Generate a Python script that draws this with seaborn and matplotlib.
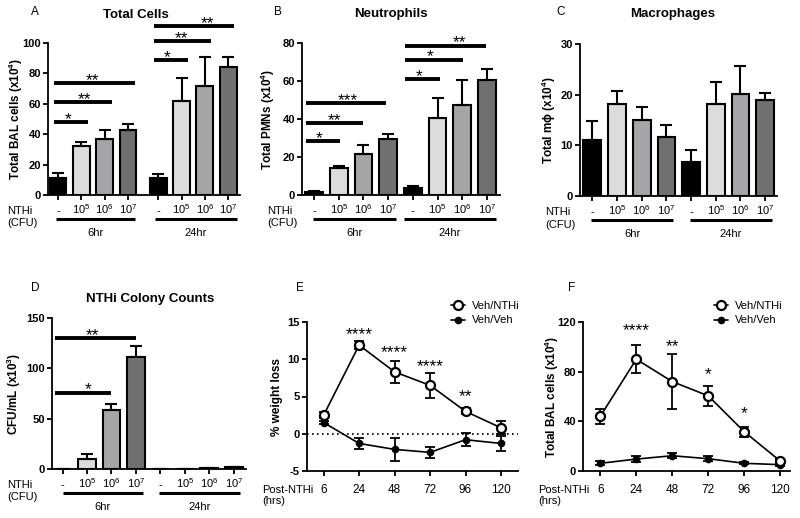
import numpy as np
import pandas as pd
import matplotlib
matplotlib.use('Agg')
import matplotlib.pyplot as plt
from matplotlib import transforms
import seaborn as sns

sns.set_style('ticks')
plt.rcParams['font.family'] = ['Liberation Sans', 'DejaVu Sans']
plt.rcParams['mathtext.fontset'] = 'custom'
plt.rcParams['mathtext.rm'] = 'Liberation Sans'
plt.rcParams['mathtext.bf'] = 'Liberation Sans:bold'
plt.rcParams['mathtext.it'] = 'Liberation Sans:italic'
for k in ['text.color', 'axes.labelcolor', 'xtick.color', 'ytick.color', 'axes.edgecolor']:
    plt.rcParams[k] = 'black'

# Dosen / Zeitpunkte der Balkendiagramme
doses = ['-', '10$^\\mathregular{5}$', '10$^\\mathregular{6}$', '10$^\\mathregular{7}$']
times = ['6hr', '24hr']
dose_colors = ['#000000', '#dcdcdc', '#a4a4a8', '#707070']

# A: Total cells
cells = [11, 32, 37, 43, 11, 62, 72, 84]
cells_err = [3.3, 3, 6, 4, 2.8, 15, 19, 6.5]
# B: Neutrophils
pmn = [1.5, 14, 21.5, 29.7, 3.9, 40.4, 47.4, 60.5]
pmn_err = [0.4, 1.1, 4.8, 2.2, 0.9, 10.6, 13, 6]
# C: Macrophages
mac = [11, 18.2, 15, 11.7, 6.7, 18.1, 20.1, 19]
mac_err = [3.8, 2.5, 2.6, 2.4, 2.3, 4.4, 5.5, 1.4]
# D: colony counts
cfu = [0, 10, 58.5, 111.4, 0, 0, 1, 2]
cfu_err = [0, 5.3, 5.7, 11, 0, 0, 0.3, 0.4]

# E / F: Zeitverlauf
hours = ['6', '24', '48', '72', '96', '120']
wl_nthi = [2.5, 11.9, 8.3, 6.5, 3.0, 0.8]
wl_nthi_err = [0.4, 0.5, 1.5, 1.7, 0.4, 0.9]
wl_veh = [1.5, -1.3, -2.1, -2.5, -0.8, -1.3]
wl_veh_err = [0.2, 0.7, 1.5, 0.7, 0.9, 1.0]
bal_nthi = [44, 90, 72, 60.5, 31.6, 8]
bal_nthi_err = [6.2, 11.3, 22, 8, 4, 2]
bal_veh = [6.2, 9.6, 12.3, 9.9, 6.2, 5.1]
bal_veh_err = [1.5, 2.5, 1.8, 2, 0.8, 0.8]

W, H = 800, 518
fig = plt.figure(figsize=(8, 5.18), dpi=100)


def make_ax(l, r, t, b):
    return fig.add_axes([l / W, 1 - b / H, (r - l) / W, (b - t) / H])


def ftext(x, y, s, **kw):
    fig.text(x / W, 1 - y / H, s, **kw)


def style(ax, yticks, ylim, xlim, ylabel, ylab_x):
    sns.despine(ax=ax)
    for s in ['left', 'bottom']:
        ax.spines[s].set_linewidth(1.3)
    ax.set_ylim(ylim)
    ax.set_xlim(xlim)
    ax.set_yticks(yticks, labels=[str(t) for t in yticks], fontweight='bold', fontsize=8)
    ax.tick_params(axis='both', width=1.3, length=3.5, pad=1.5)
    ax.set_ylabel(ylabel, fontweight='bold', fontsize=8.5)
    ax.yaxis.label.set_va('center')
    ax.yaxis.set_label_coords(ylab_x, 0.5)
    ax.set_xlabel('')


def off(ax, px):
    return transforms.offset_copy(ax.get_xaxis_transform(), fig=fig, y=-px, units='dots')


def star(ax, x, y, s, dy=0, size=12.5):
    ax.annotate(s, (x, y), xytext=(0, dy - 0.575 * size), textcoords='offset points',
                ha='center', va='baseline', fontsize=size, annotation_clip=False)


def bar_panel(ax, pos, vals, errs, spans, sigs):
    df = pd.DataFrame({'pos': pos, 'val': vals, 'dose': doses * 2})
    sns.barplot(data=df, x='pos', y='val', hue='dose', hue_order=doses, palette=dose_colors,
                native_scale=True, dodge=False, width=0.72, edgecolor='black', linewidth=1.5,
                errorbar=None, legend=False, ax=ax)
    ax.errorbar(pos, vals, yerr=[np.zeros(len(errs)), errs], fmt='none', ecolor='black',
                elinewidth=1.5, capsize=4, capthick=1.5, zorder=3)
    ax.set_xticks(pos, labels=[''] * len(pos))
    for p, d in zip(pos, doses * 2):
        ax.text(p, 0, d, transform=off(ax, 19), ha='center', va='baseline', fontsize=8)
    for (a, b), t in zip(spans, times):
        ax.plot([a, b], [0, 0], color='black', lw=2.2, transform=off(ax, 24), clip_on=False,
                solid_capstyle='butt')
        ax.text((a + b) / 2, 0, t, transform=off(ax, 41), ha='center', va='baseline', fontsize=8)
    for x0, x1, y, s, tx in sigs:
        ax.plot([x0, x1], [y, y], color='black', lw=2.8, clip_on=False, solid_capstyle='butt')
        star(ax, tx, y, s, dy=5.8)


# ---- A ----
axA = make_ax(48, 240, 43, 195)
posA = [0, 1, 2, 3, 4.3, 5.3, 6.3, 7.3]
bar_panel(axA, posA, cells, cells_err, [(-0.09, 3.3), (4.16, 7.68)],
          [(-0.17, 1.29, 48, '*', 0.44), (-0.17, 2.3, 61, '**', 1.13), (-0.17, 3.3, 73.5, '**', 1.46),
           (4.13, 5.56, 89, '*', 4.66), (4.13, 6.56, 101, '**', 5.31), (4.13, 7.56, 111, '**', 6.41)])
style(axA, [0, 20, 40, 60, 80, 100], (0, 100), (-0.43, 7.81), 'Total BAL cells (x10$^\\mathbf{4}$)', -0.167)

# ---- B ----
axB = make_ax(302, 500, 43, 195)
posB = list(range(8))
bar_panel(axB, posB, pmn, pmn_err, [(-0.03, 3.3), (3.64, 7.37)],
          [(-0.34, 1.05, 28.3, '*', 0.22), (-0.34, 2.0, 38, '**', 0.82), (-0.34, 2.92, 48.3, '***', 1.36),
           (3.68, 5.1, 60.9, '*', 4.26), (3.68, 6.02, 71.3, '*', 4.7), (3.68, 6.96, 78.6, '**', 5.9)])
style(axB, [0, 20, 40, 60, 80], (0, 80), (-0.49, 7.53), 'Total PMNs (x10$^\\mathbf{4}$)', -0.172)

# ---- C ----
axC = make_ax(580, 777, 44, 196)
bar_panel(axC, posB, mac, mac_err, [(-0.05, 3.28), (3.94, 7.29)], [])
style(axC, [0, 10, 20, 30], (0, 30), (-0.5, 7.48), 'Total m\u03d5 (x10$^\\mathbf{4}$)', -0.157)

# ---- D ----
axD = make_ax(52, 246, 318, 469)
bar_panel(axD, posB, cfu, cfu_err, [(0.0, 3.3), (3.96, 7.25)],
          [(-0.3, 2.0, 75.8, '*', 1.06), (-0.3, 3.0, 129.7, '**', 1.24)])
style(axD, [0, 50, 100, 150], (0, 150), (-0.43, 7.5), 'CFU/mL (x10$^\\mathbf{3}$)', -0.194)

for xl, yb in [(7, 195), (267, 195), (545, 196), (7, 469)]:
    ftext(xl, yb + 19, 'NTHi', ha='left', va='baseline', fontsize=8)
    ftext(xl, yb + 31.5, '(CFU)', ha='left', va='baseline', fontsize=8)


# ---- E / F ----
def line_panel(ax, nthi, nthi_err, veh, veh_err, stars, leg_xy):
    x = np.arange(len(hours))
    ax.errorbar(x, nthi, yerr=nthi_err, fmt='none', ecolor='black', elinewidth=1.3,
                capsize=3.5, capthick=1.3, zorder=2)
    ax.errorbar(x, veh, yerr=veh_err, fmt='none', ecolor='black', elinewidth=1.3,
                capsize=3.5, capthick=1.3, zorder=2)
    sns.lineplot(x=x, y=nthi, color='black', lw=1.2, marker='o', markersize=6.5,
                 markerfacecolor='white', markeredgecolor='black', markeredgewidth=1.6,
                 label='Veh/NTHi', ax=ax, zorder=4)
    sns.lineplot(x=x, y=veh, color='black', lw=1.2, marker='o', markersize=4.5,
                 markerfacecolor='black', markeredgecolor='black', markeredgewidth=1,
                 label='Veh/Veh', ax=ax, zorder=3)
    ax.set_xticks(x, labels=[''] * len(x))
    for xi, h in zip(x, hours):
        ax.text(xi, 0, h, transform=off(ax, 22), ha='center', va='baseline', fontsize=8.5)
    for xi, yi, s in stars:
        star(ax, xi, yi, s)
    ax.legend(loc='upper left', bbox_to_anchor=(leg_xy[0] / W, 1 - leg_xy[1] / H),
              bbox_transform=fig.transFigure, frameon=False, fontsize=8, handlelength=1.3,
              handletextpad=0.6, labelspacing=0.4, borderpad=0, borderaxespad=0)


axE = make_ax(307, 518, 322, 471)
axE.axhline(0, color='black', lw=1.2, ls=(0, (1, 2)), zorder=1)
line_panel(axE, wl_nthi, wl_nthi_err, wl_veh, wl_veh_err,
           [(1, 14.1, '****'), (2, 11.6, '****'), (3, 9.7, '****'), (4, 5.7, '**')], (451, 301))
style(axE, [-5, 0, 5, 10, 15], (-5, 15), (-0.47, 5.48), '% weight loss', -0.142)

axF = make_ax(583, 790, 322, 471)
line_panel(axF, bal_nthi, bal_nthi_err, bal_veh, bal_veh_err,
           [(1, 117.3, '****'), (2, 104.8, '**'), (3, 82, '*'), (4, 51, '*')], (714, 301))
style(axF, [0, 40, 80, 120], (0, 120), (-0.48, 5.27), 'Total BAL cells (x10$^\\mathbf{4}$)', -0.15)

for xl in [262, 538]:
    ftext(xl, 493, 'Post-NTHi', ha='left', va='baseline', fontsize=8)
    ftext(xl, 504, '(hrs)', ha='left', va='baseline', fontsize=8)

# Titel und Buchstaben
for x, y, s in [(136, 15, 'Total Cells'), (391, 14, 'Neutrophils'), (673, 14, 'Macrophages'),
                (150, 299, 'NTHi Colony Counts')]:
    ftext(x, y, s, ha='center', va='center', fontsize=9.5, fontweight='bold')
for x, y, s in [(35, 12, 'A'), (278, 12, 'B'), (561, 12, 'C'), (35, 288, 'D'), (300, 288, 'E'),
                (572, 288, 'F')]:
    ftext(x, y, s, ha='center', va='center', fontsize=8.5)

fig.savefig('out.png', dpi=100)
